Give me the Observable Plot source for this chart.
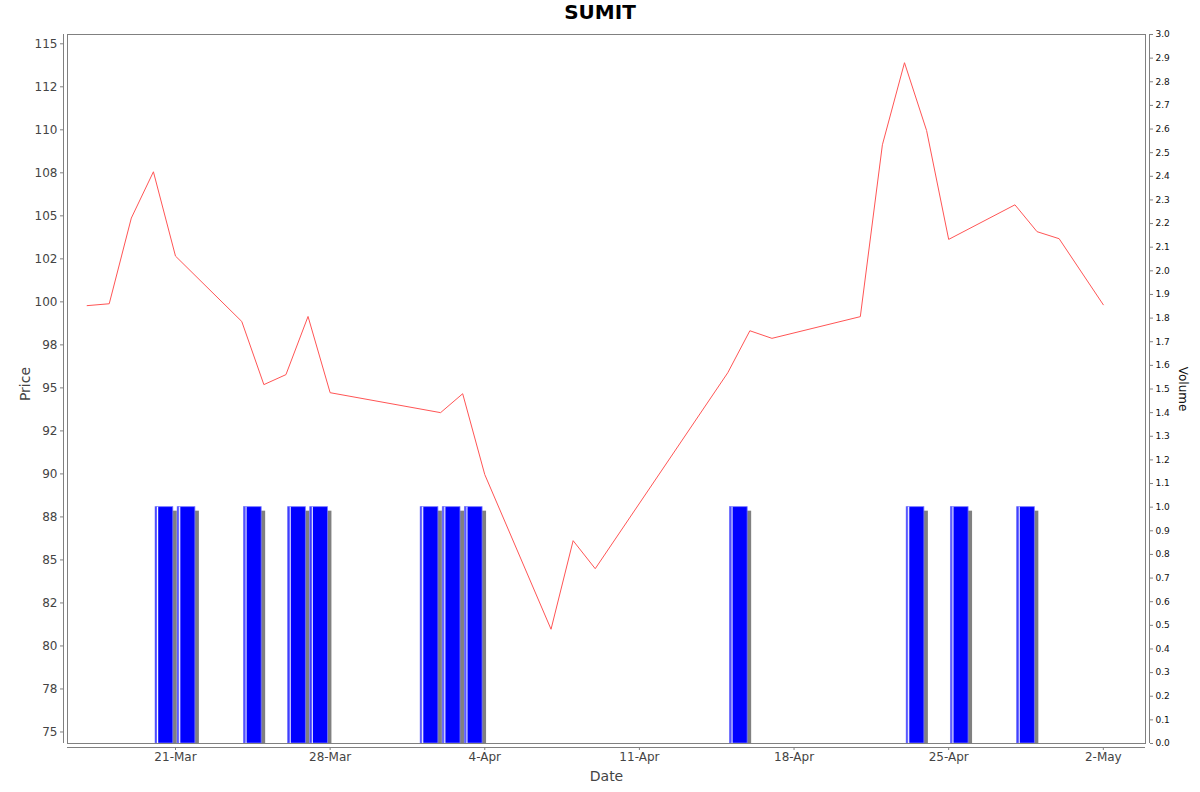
<!DOCTYPE html>
<html>
<head>
<meta charset="utf-8">
<script src="https://cdn.jsdelivr.net/npm/d3@7"></script>
<script src="https://cdn.jsdelivr.net/npm/@observablehq/plot@0.6"></script>
<style>
  body { margin: 0; background: #fff; }
  #title { height: 28px; line-height: 26px; text-align: center; font: bold 20px "DejaVu Sans", sans-serif; color: #000; }
</style>
</head>
<body>
<div id="title">SUMIT</div>
<div id="chart"></div>
<script>
// ---- Data ----
const priceDates = ["2025-03-17","2025-03-18","2025-03-19","2025-03-20","2025-03-21",
  "2025-03-24","2025-03-25","2025-03-26","2025-03-27","2025-03-28",
  "2025-04-02","2025-04-03","2025-04-04","2025-04-07","2025-04-08","2025-04-09",
  "2025-04-15","2025-04-16","2025-04-17","2025-04-21","2025-04-22","2025-04-23",
  "2025-04-24","2025-04-25","2025-04-28","2025-04-29","2025-04-30","2025-05-02"];
const priceValues = [99.78, 99.89, 104.87, 107.56, 102.66,
  98.86, 95.19, 95.77, 99.15, 94.72,
  93.56, 94.66, 89.96, 80.97, 86.12, 84.49,
  95.88, 98.32, 97.88, 99.14, 109.13, 113.9,
  109.96, 103.63, 105.64, 104.08, 103.67, 99.83];

const volumeDates = ["2025-03-20","2025-03-21","2025-03-24","2025-03-26","2025-03-27",
  "2025-04-01","2025-04-02","2025-04-03","2025-04-15","2025-04-23","2025-04-25","2025-04-28"];
const volumeValues = [1, 1, 1, 1, 1, 1, 1, 1, 1, 1, 1, 1];

const priceTickValues = [75, 77.5, 80, 82.5, 85, 87.5, 90, 92.5, 95, 97.5, 100, 102.5, 105, 107.5, 110, 112.5, 115];
const priceTickLabels = ["75","78","80","82","85","88","90","92","95","98","100","102","105","108","110","112","115"];
const volumeTickLabels = ["0.0","0.1","0.2","0.3","0.4","0.5","0.6","0.7","0.8","0.9","1.0",
  "1.1","1.2","1.3","1.4","1.5","1.6","1.7","1.8","1.9","2.0",
  "2.1","2.2","2.3","2.4","2.5","2.6","2.7","2.8","2.9","3.0"];
const dateTickValues = ["2025-03-21","2025-03-28","2025-04-04","2025-04-11","2025-04-18","2025-04-25","2025-05-02"];

// ---- Scales / helpers ----
const priceDomain = [74.33, 115.54];
const volumeDomain = [0, 3];
const xDomain = [new Date("2025-03-16T02:40Z"), new Date("2025-05-03T21:50Z")];
const vol2price = v => priceDomain[0] + (v - volumeDomain[0]) / (volumeDomain[1] - volumeDomain[0]) * (priceDomain[1] - priceDomain[0]);
const DAY = 864e5;

const priceData = priceDates.map((d, i) => ({date: new Date(d + "T00:00Z"), price: priceValues[i]}));
const volumeData = volumeDates.map((d, i) => {
  const t = new Date(d + "T00:00Z");
  return {start: t, end: new Date(+t + DAY), base: vol2price(0), top: vol2price(volumeValues[i])};
});
const priceLabelMap = new Map(priceTickValues.map((v, i) => [v, priceTickLabels[i]]));
const volTickPos = volumeTickLabels.map(s => vol2price(+s));
const volLabelMap = new Map(volTickPos.map((p, i) => [p, volumeTickLabels[i]]));

const axisGray = "#808080";
const font = "DejaVu Sans";

const chart = Plot.plot({
  width: 1200,
  height: 764,
  marginLeft: 67,
  marginRight: 55,
  marginTop: 6,
  marginBottom: 49,
  style: {fontFamily: font, background: "#fff", overflow: "visible"},
  x: {type: "utc", domain: xDomain},
  y: {domain: priceDomain},
  marks: [
    // volume bars: shadow, bar, highlight
    Plot.rect(volumeData, {x1: "start", x2: "end", y1: "base", y2: "top",
      insetLeft: 2.2, insetRight: 2.2, insetTop: 4, dx: 4, fill: "#808080"}),
    Plot.rect(volumeData, {x1: "start", x2: "end", y1: "base", y2: "top",
      insetLeft: 2.2, insetRight: 2.2, fill: "#0000ff"}),
    Plot.rect(volumeData, {x1: "start", x2: "end", y1: "base", y2: "top",
      insetLeft: 2.2, insetRight: 2.2, fill: "none", stroke: "#7777ff", strokeWidth: 0.8}),
    Plot.ruleX(volumeData, {x: "start", y1: "base", y2: "top", dx: 4.2, stroke: "#ffffff", strokeWidth: 1.2}),
    Plot.ruleX(volumeData, {x: "start", y1: "base", y2: "top", dx: 3.0, stroke: "#6f6fff", strokeWidth: 1}),
    // price line
    Plot.line(priceData, {x: "date", y: "price", stroke: "#ff5555", strokeWidth: 1}),
    // plot outline
    Plot.frame({stroke: axisGray, strokeWidth: 1}),
    // axis lines (offset from the plot area)
    Plot.ruleX([xDomain[0]], {dx: -4, stroke: axisGray}),
    Plot.ruleX([xDomain[1]], {dx: 4, stroke: axisGray}),
    Plot.ruleY([priceDomain[0]], {dy: 4, stroke: axisGray}),
    // left price axis
    Plot.axisY(priceTickValues, {anchor: "left", dx: -4, tickSize: 3, tickPadding: 3,
      tickFormat: d => priceLabelMap.get(d), fontSize: 12, color: "#444", stroke: axisGray, label: null}),
    // right volume axis
    Plot.axisY(volTickPos, {anchor: "right", dx: 4, tickSize: 3, tickPadding: 3,
      tickFormat: d => volLabelMap.get(d), fontSize: 9, color: "#111", stroke: axisGray, label: null}),
    // bottom date axis
    Plot.axisX(dateTickValues.map(d => new Date(d + "T00:00Z")), {anchor: "bottom", dy: 4, tickSize: 3, tickPadding: 2,
      tickFormat: d3.utcFormat("%-d-%b"), fontSize: 12, color: "#444", stroke: axisGray, label: null}),
    // axis titles
    Plot.text(["Price"], {frameAnchor: "left", textAnchor: "middle", lineAnchor: "middle", dx: -42, dy: -5, rotate: -90, fontSize: 14, fill: "#444", text: d => d}),
    Plot.text(["Date"], {frameAnchor: "bottom", textAnchor: "middle", lineAnchor: "middle", dy: 33, fontSize: 14, fill: "#444", text: d => d}),
    Plot.text(["Volume"], {frameAnchor: "right", textAnchor: "middle", lineAnchor: "middle", dx: 37, rotate: 90, fontSize: 12, fill: "#111", text: d => d})
  ]
});
document.getElementById("chart").appendChild(chart);
</script>
</body>
</html>
